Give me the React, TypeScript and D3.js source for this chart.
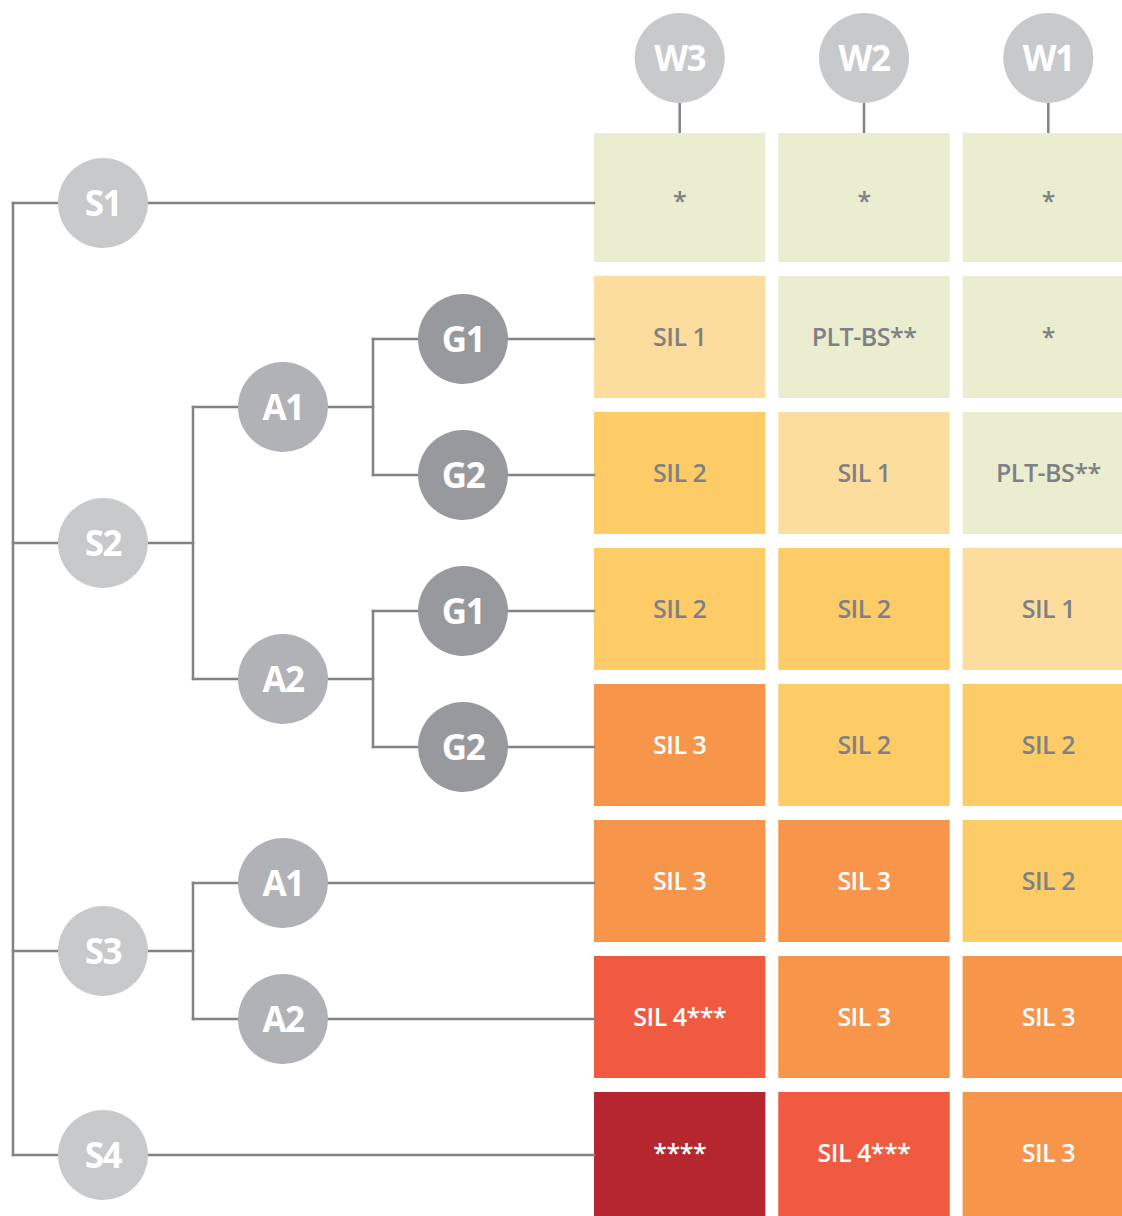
import * as d3 from 'd3';
import * as React from 'react';

const width = 1122;
const height = 1216;

// columns of the matrix, left to right
const columns = ['W3', 'W2', 'W1'];

// one list per column, top row to bottom row
const w3Values = ['*', 'SIL 1', 'SIL 2', 'SIL 2', 'SIL 3', 'SIL 3', 'SIL 4***', '****'];
const w2Values = ['*', 'PLT-BS**', 'SIL 1', 'SIL 2', 'SIL 2', 'SIL 3', 'SIL 3', 'SIL 4***'];
const w1Values = ['*', '*', 'PLT-BS**', 'SIL 1', 'SIL 2', 'SIL 2', 'SIL 3', 'SIL 3'];

const levels = ['0', '1', '2', '3', '4', '5'];
const levelColors = ['#eaedd0', '#fddd9e', '#fdcc67', '#f7954a', '#f05a40', '#b5262e'];

type TreeNode = { name: string; row?: number; children?: TreeNode[] };

const tree: TreeNode = {
  name: '',
  children: [
    { name: 'S1', row: 0 },
    {
      name: 'S2',
      children: [
        { name: 'A1', children: [{ name: 'G1', row: 1 }, { name: 'G2', row: 2 }] },
        { name: 'A2', children: [{ name: 'G1', row: 3 }, { name: 'G2', row: 4 }] },
      ],
    },
    { name: 'S3', children: [{ name: 'A1', row: 5 }, { name: 'A2', row: 6 }] },
    { name: 'S4', row: 7 },
  ],
};

const lineColor = '#808285';
const greyText = '#7f8184';
const depthColors = ['#ffffff', '#c8c9cb', '#b1b2b5', '#98999c'];
const font = "'Open Sans', sans-serif";

const levelOf = (label: string) => {
  if (label === '****') return '5';
  const m = label.match(/SIL (\d)/);
  return m ? m[1] : '0';
};

export default function App() {
  const valuesByColumn: Record<string, string[]> = { W3: w3Values, W2: w2Values, W1: w1Values };
  const nRows = w3Values.length;

  const x = d3.scaleBand<string>().domain(columns).range([594, 1134]).paddingInner(0.07);
  const y = d3
    .scaleBand<number>()
    .domain(d3.range(nRows))
    .range([140, 140 + nRows * 136 - 14])
    .paddingInner(14 / 136);
  const color = d3.scaleOrdinal<string, string>().domain(levels).range(levelColors);
  const xDepth = d3.scaleLinear().domain([1, 3]).range([103, 463]);

  const tableLeft = x.range()[0];
  const r = 45;

  const root = d3.hierarchy<TreeNode>(tree);
  const pos = new Map<any, { x: number; y: number }>();
  root.eachAfter(n => {
    const px = xDepth(n.depth);
    let py: number;
    if (n.children) {
      py = d3.mean(n.children, c => pos.get(c)!.y)!;
    } else {
      py = (y(n.data.row!) as number) + y.bandwidth() / 2 + 2;
    }
    pos.set(n, { x: px, y: py });
  });

  const lines: { x1: number; y1: number; x2: number; y2: number }[] = [];
  root.each(n => {
    const p = pos.get(n)!;
    if (n.children) {
      const bx = (p.x + xDepth(n.depth + 1)) / 2;
      if (n.depth > 0) lines.push({ x1: p.x, y1: p.y, x2: bx, y2: p.y });
      const ys = n.children.map(c => pos.get(c)!.y);
      lines.push({ x1: bx, y1: d3.min(ys)!, x2: bx, y2: d3.max(ys)! });
      n.children.forEach(c => {
        const cp = pos.get(c)!;
        lines.push({ x1: bx, y1: cp.y, x2: cp.x, y2: cp.y });
      });
    } else {
      lines.push({ x1: p.x, y1: p.y, x2: tableLeft, y2: p.y });
    }
  });

  const nodes = root.descendants().filter(n => n.depth > 0);

  const cells = columns.flatMap(col =>
    valuesByColumn[col].map((label, row) => ({ col, row, label, level: levelOf(label) })),
  );

  const tableTop = 133;
  const headerY = 58;

  return (
    <svg
      width={width}
      height={height}
      style={{ position: 'absolute', left: 0, top: 0, background: '#fff' }}
    >
      {/* matrix cells */}
      {cells.map(c => {
        const top = c.row === 0 ? tableTop : (y(c.row) as number);
        const bottom = c.row === nRows - 1 ? height : (y(c.row) as number) + y.bandwidth();
        const cx = (x(c.col) as number) + x.bandwidth() / 2;
        const cy = (y(c.row) as number) + y.bandwidth() / 2;
        return (
          <g key={c.col + c.row}>
            <rect
              x={x(c.col)}
              y={top}
              width={x.bandwidth()}
              height={bottom - top}
              fill={color(c.level)}
            />
            <text
              x={cx}
              y={cy}
              dy="0.35em"
              textAnchor="middle"
              fontFamily={font}
              fontWeight={600}
              fontSize={25}
              letterSpacing={-0.5}
              fill={+c.level >= 3 ? '#ffffff' : greyText}
            >
              {c.label}
            </text>
          </g>
        );
      })}

      {/* column headers */}
      {columns.map(col => {
        const cx = (x(col) as number) + x.bandwidth() / 2;
        return (
          <g key={col}>
            <line x1={cx} x2={cx} y1={headerY + r} y2={tableTop} stroke={lineColor} strokeWidth={2.5} />
            <circle cx={cx} cy={headerY} r={r} fill={depthColors[1]} />
            <text
              x={cx}
              y={headerY}
              dy="0.36em"
              textAnchor="middle"
              fontFamily={font}
              fontWeight={700}
              fontSize={35}
              letterSpacing={-1.5}
              fill="#ffffff"
            >
              {col}
            </text>
          </g>
        );
      })}

      {/* tree connectors */}
      {lines.map((l, i) => (
        <line
          key={i}
          x1={l.x1}
          y1={l.y1}
          x2={l.x2}
          y2={l.y2}
          stroke={lineColor}
          strokeWidth={2.5}
          strokeLinecap="square"
        />
      ))}

      {/* tree nodes */}
      {nodes.map((n, i) => {
        const p = pos.get(n)!;
        return (
          <g key={i}>
            <circle cx={p.x} cy={p.y} r={r} fill={depthColors[n.depth]} />
            <text
              x={p.x}
              y={p.y}
              dy="0.36em"
              textAnchor="middle"
              fontFamily={font}
              fontWeight={700}
              fontSize={35}
              letterSpacing={-1.5}
              fill="#ffffff"
            >
              {n.data.name}
            </text>
          </g>
        );
      })}
    </svg>
  );
}
